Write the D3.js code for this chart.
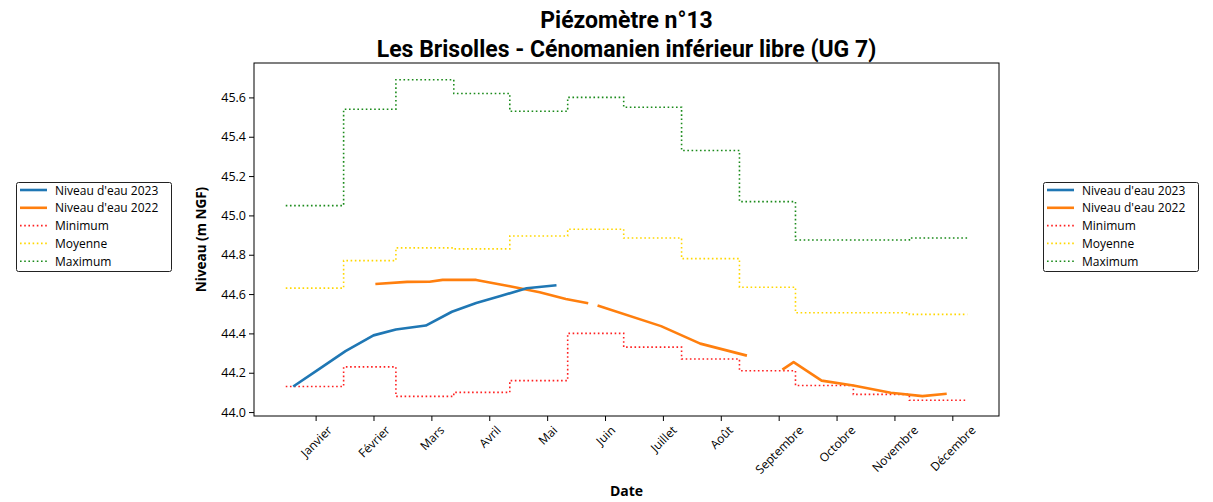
<!DOCTYPE html>
<html>
<head>
<meta charset="utf-8">
<script src="https://cdn.jsdelivr.net/npm/d3@7"></script>
<style>
  body { margin: 0; background: #fff; }
  text { fill: #000; }
</style>
</head>
<body>
<script>
// données : jours de l'année (0 = 1er janvier)
var debutMois = [0, 31, 59, 90, 120, 151, 181, 212, 243, 273, 304, 334, 365];
var moisLabels = ["Janvier", "Février", "Mars", "Avril", "Mai", "Juin", "Juillet", "Août",
                  "Septembre", "Octobre", "Novembre", "Décembre"];
var tickJours = [16, 47, 78, 109, 140, 171, 202, 233, 264, 295, 326, 357];
var tickNiveaux = [44.0, 44.2, 44.4, 44.6, 44.8, 45.0, 45.2, 45.4, 45.6];

var minimum = [44.13, 44.23, 44.08, 44.10, 44.16, 44.40, 44.33, 44.27, 44.21, 44.135, 44.09, 44.06];
var moyenne = [44.63, 44.77, 44.835, 44.83, 44.895, 44.93, 44.885, 44.78, 44.635, 44.505, 44.505, 44.497];
var maximum = [45.05, 45.54, 45.69, 45.62, 45.53, 45.60, 45.55, 45.33, 45.07, 44.875, 44.875, 44.885];

var jours2023 = [4, 18, 32, 47, 59, 75, 89, 102, 115, 129, 145];
var niveau2023 = [44.13, 44.22, 44.31, 44.39, 44.42, 44.44, 44.51, 44.555, 44.59, 44.63, 44.645];

// null = trou dans la série
var jours2022 = [48, 65, 77, 84, 102, 120, 136, 150, 162, 163, 167, 201, 222, 247, 248, 266, 272, 287, 304, 324, 341, 354];
var niveau2022 = [44.651, 44.662, 44.663, 44.672, 44.672, 44.64, 44.609, 44.575, 44.553, null,
                  44.542, 44.437, 44.348, 44.287, null, 44.216, 44.254, 44.16, 44.135, 44.098, 44.081, 44.093];

var ancho = 1213, alto = 502;
var margen = {left: 254, right: 999, top: 63, bottom: 416};

var svg = d3.select("body").append("svg")
  .attr("width", ancho)
  .attr("height", alto);

var escalaX = d3.scaleLinear().domain([-17, 382]).range([margen.left, margen.right]);
var escalaY = d3.scaleLinear().domain([43.98, 45.775]).range([margen.bottom, margen.top]);

var plot = svg.append("g");

// courbes en escalier (min / moyenne / max)
function escalier(valeurs) {
  return debutMois.map(function(d, i) {
    return [d, valeurs[Math.min(i, valeurs.length - 1)]];
  });
}
var ligneEscalier = d3.line()
  .x(function(d) { return escalaX(d[0]); })
  .y(function(d) { return escalaY(d[1]); })
  .curve(d3.curveStepAfter);

var series = [
  {nom: "Minimum", vals: minimum, couleur: "#ff2020"},
  {nom: "Moyenne", vals: moyenne, couleur: "#ffd700"},
  {nom: "Maximum", vals: maximum, couleur: "#1a8a1a"}
];
series.forEach(function(s) {
  plot.append("path")
    .attr("d", ligneEscalier(escalier(s.vals)))
    .attr("fill", "none")
    .attr("stroke", s.couleur)
    .attr("stroke-width", 1.6)
    .attr("stroke-dasharray", "1.6,2.6");
});

var ligne = d3.line()
  .defined(function(d) { return d[1] !== null; })
  .x(function(d) { return escalaX(d[0]); })
  .y(function(d) { return escalaY(d[1]); });

plot.append("path")
  .attr("d", ligne(jours2022.map(function(d, i) { return [d, niveau2022[i]]; })))
  .attr("fill", "none")
  .attr("stroke", "#ff7f0e")
  .attr("stroke-width", 2.6)
  .attr("stroke-linejoin", "round");

plot.append("path")
  .attr("d", ligne(jours2023.map(function(d, i) { return [d, niveau2023[i]]; })))
  .attr("fill", "none")
  .attr("stroke", "#1f77b4")
  .attr("stroke-width", 2.6)
  .attr("stroke-linejoin", "round");

// cadre
svg.append("rect")
  .attr("x", margen.left).attr("y", margen.top)
  .attr("width", margen.right - margen.left)
  .attr("height", margen.bottom - margen.top)
  .attr("fill", "none").attr("stroke", "#000").attr("stroke-width", 1);

// axe Y
var axeY = svg.append("g")
  .attr("transform", "translate(" + margen.left + ",0)")
  .call(d3.axisLeft(escalaY).tickValues(tickNiveaux).tickFormat(d3.format(".1f")).tickSize(5).tickPadding(3));
axeY.select(".domain").remove();
axeY.selectAll("text").style("font-family", "Open Sans").style("font-size", "12.5px").attr("fill", "#000");

// axe X
var axeX = svg.append("g")
  .attr("transform", "translate(0," + margen.bottom + ")")
  .call(d3.axisBottom(escalaX).tickValues(tickJours).tickFormat(function(d, i) { return moisLabels[i]; }).tickSize(5));
axeX.select(".domain").remove();
axeX.selectAll("text")
  .style("font-family", "Open Sans").style("font-size", "12px").attr("fill", "#000")
  .attr("dy", null).attr("y", null)
  .attr("text-anchor", "middle")
  .attr("dominant-baseline", "central")
  .attr("transform", function() {
    var w = this.getComputedTextLength();
    var h = 11;
    var desplaz = 8 + (w + h) * 0.7071 / 2;
    return "translate(0," + desplaz + ") rotate(-45)";
  });

// titres
svg.append("text")
  .attr("x", (margen.left + margen.right) / 2).attr("y", 28)
  .attr("text-anchor", "middle")
  .style("font-family", "Roboto").style("font-weight", "bold").style("font-size", "23px")
  .text("Piézomètre n°13");
svg.append("text")
  .attr("x", (margen.left + margen.right) / 2).attr("y", 57)
  .attr("text-anchor", "middle")
  .style("font-family", "Roboto").style("font-weight", "bold").style("font-size", "23px")
  .text("Les Brisolles - Cénomanien inférieur libre (UG 7)");

svg.append("text")
  .attr("x", (margen.left + margen.right) / 2).attr("y", 496)
  .attr("text-anchor", "middle")
  .style("font-family", "Open Sans").style("font-weight", "bold").style("font-size", "14px")
  .text("Date");

svg.append("text")
  .attr("transform", "translate(206," + (margen.top + margen.bottom) / 2 + ") rotate(-90)")
  .attr("text-anchor", "middle")
  .style("font-family", "Open Sans").style("font-weight", "bold").style("font-size", "13.5px")
  .text("Niveau (m NGF)");

// légendes (gauche et droite)
var itemsLegende = [
  {nom: "Niveau d'eau 2023", couleur: "#1f77b4", pointille: false},
  {nom: "Niveau d'eau 2022", couleur: "#ff7f0e", pointille: false},
  {nom: "Minimum", couleur: "#ff2020", pointille: true},
  {nom: "Moyenne", couleur: "#ffd700", pointille: true},
  {nom: "Maximum", couleur: "#1a8a1a", pointille: true}
];

function legende(x, y, w) {
  var g = svg.append("g").attr("transform", "translate(" + x + "," + y + ")");
  g.append("rect")
    .attr("x", 0.5).attr("y", 0.5).attr("width", w).attr("height", 89)
    .attr("rx", 2).attr("fill", "#fff").attr("stroke", "#222").attr("stroke-width", 1);
  itemsLegende.forEach(function(it, i) {
    var cy = 8 + i * 17.8;
    g.append("line")
      .attr("x1", 4).attr("x2", 31).attr("y1", cy).attr("y2", cy)
      .attr("stroke", it.couleur)
      .attr("stroke-width", it.pointille ? 1.6 : 2.6)
      .attr("stroke-dasharray", it.pointille ? "1.6,2.6" : null);
    g.append("text")
      .attr("x", 39).attr("y", cy)
      .attr("dominant-baseline", "central")
      .style("font-family", "Open Sans").style("font-size", "12px")
      .text(it.nom);
  });
}
legende(16, 182, 155);
legende(1043, 182, 155);
</script>
</body>
</html>
